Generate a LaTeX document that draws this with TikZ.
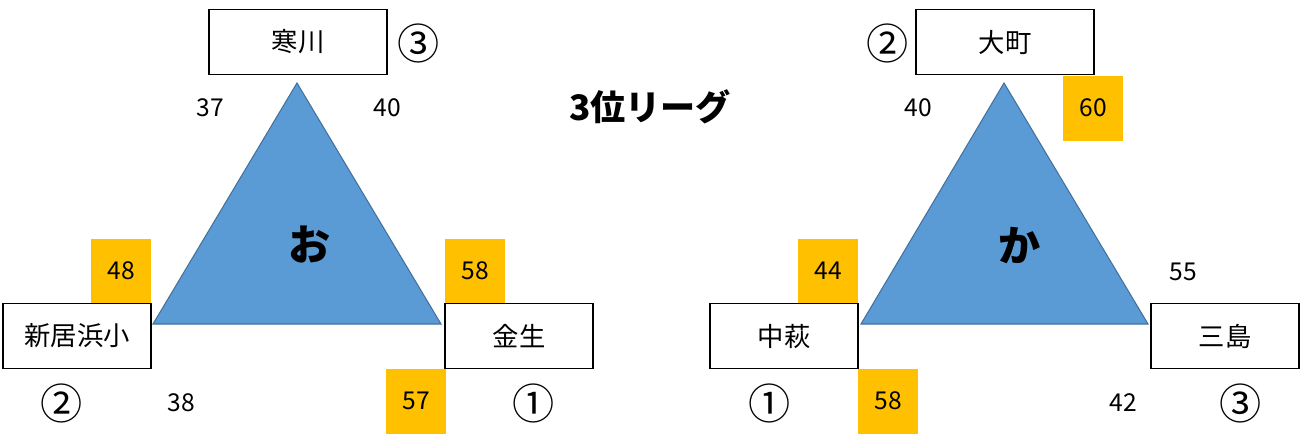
\documentclass[tikz,border=0pt]{standalone}
\usepackage{fontspec}
\setmainfont{Noto Sans CJK JP}
\usetikzlibrary{positioning}
\definecolor{triblue}{HTML}{5B9BD5}
\definecolor{triedge}{HTML}{41719C}
\definecolor{scoreyel}{HTML}{FFC000}

\begin{document}
\begin{tikzpicture}[x=0.02cm, y=-0.02cm,
  team/.style={draw, line width=1.1pt, fill=white, minimum width=2.96cm, minimum height=1.3cm, inner sep=0pt, font=\fontsize{15}{17}\selectfont},
  wideteam/.style={team, minimum width=3.56cm},
  score/.style={fill=scoreyel, minimum width=1.2cm, minimum height=1.3cm, inner sep=0pt, font=\fontsize{14}{16}\selectfont},
  pts/.style={inner sep=0pt, font=\fontsize{14}{16}\selectfont},
  rank/.style={inner sep=0pt, font=\fontsize{24}{26}\selectfont},
  tri/.style={fill=triblue, draw=triedge, line width=0.6pt},
  grp/.style={inner sep=0pt, font=\bfseries\fontsize{24}{26}\selectfont}
]
\useasboundingbox (0,0) rectangle (1300,444);

% left group
\path[tri] (153,324) -- (297,83) -- (441,324) -- cycle;
\node[grp] (grpO) at (310,245) {お};
\node[wideteam] (samukawa) at (298,42) {寒川};
\node[rank] (rankS) at (419,43) {③};
\node[pts] (s37) at (210,108) {37};
\node[pts] (s40a) at (387,108) {40};
\node[score] (s48) at (121,271) {48};
\node[team] (niihama) at (77,336) {新居浜小};
\node[rank] (rankN) at (62,403) {②};
\node[pts] (s38) at (181,403) {38};
\node[score] (s57) at (416,401) {57};
\node[score] (s58a) at (475,271) {58};
\node[team] (kanou) at (519,336) {金生};
\node[rank] (rankK) at (534,403) {①};

% title
\node[grp, font=\bfseries\fontsize{20}{22}\selectfont] (title) at (650,107) {3位リーグ};

% right group
\path[tri] (861,324) -- (1004,83) -- (1148,324) -- cycle;
\node[grp] (grpK) at (1020,245) {か};
\node[wideteam] (omachi) at (1005,42) {大町};
\node[rank] (rankO) at (888,43) {②};
\node[pts] (s40b) at (918,108) {40};
\node[score] (s60) at (1093,108) {60};
\node[score] (s44) at (828,271) {44};
\node[team] (nakahagi) at (784,336) {中萩};
\node[rank] (rankNk) at (770,403) {①};
\node[score] (s58b) at (888,401) {58};
\node[pts] (s55) at (1183,272) {55};
\node[team] (mishima) at (1225,336) {三島};
\node[pts] (s42) at (1123,403) {42};
\node[rank] (rankM) at (1241,403) {③};
\end{tikzpicture}
\end{document}
